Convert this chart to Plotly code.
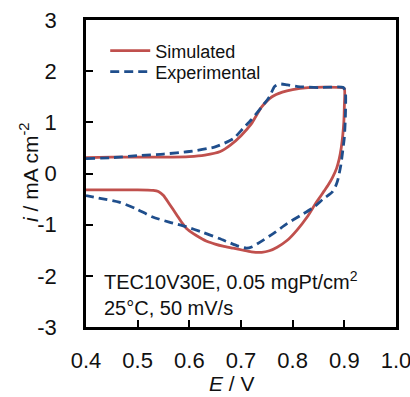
import plotly.graph_objects as go

# Simulated CV (anodic sweep then cathodic sweep)
sim_E = [0.40, 0.45, 0.50, 0.55, 0.60, 0.63, 0.66, 0.68, 0.70, 0.72, 0.74, 0.76, 0.78, 0.80, 0.83, 0.86, 0.895,
         0.900, 0.900, 0.899, 0.897, 0.894, 0.890, 0.885, 0.877, 0.869, 0.861, 0.853, 0.844, 0.828, 0.808, 0.789,
         0.770, 0.755, 0.740, 0.720, 0.704, 0.685, 0.665, 0.650, 0.635, 0.620, 0.607, 0.595, 0.587, 0.575, 0.561,
         0.550, 0.540, 0.530, 0.50, 0.45, 0.40]
sim_i = [0.31, 0.32, 0.32, 0.32, 0.33, 0.36, 0.43, 0.56, 0.74, 0.97, 1.30, 1.50, 1.59, 1.64, 1.68, 1.69, 1.68,
         1.66, 1.30, 1.00, 0.75, 0.50, 0.28, 0.10, -0.08, -0.22, -0.34, -0.46, -0.59, -0.85, -1.11, -1.31,
         -1.44, -1.51, -1.54, -1.53, -1.50, -1.46, -1.42, -1.38, -1.33, -1.25, -1.17, -1.08, -0.98, -0.80, -0.59,
         -0.43, -0.35, -0.33, -0.32, -0.32, -0.32]

# Experimental CV
exp_E = [0.40, 0.45, 0.50, 0.55, 0.60, 0.65, 0.685, 0.704, 0.72, 0.74, 0.755, 0.765, 0.775, 0.79, 0.81, 0.85, 0.898,
         0.902, 0.902, 0.900, 0.897, 0.893, 0.887, 0.883, 0.876, 0.860, 0.841, 0.815, 0.789, 0.763, 0.737, 0.722,
         0.711, 0.695, 0.675, 0.658, 0.626, 0.594, 0.561, 0.529, 0.497, 0.464, 0.43, 0.40]
exp_i = [0.29, 0.31, 0.35, 0.38, 0.43, 0.52, 0.68, 0.88, 1.05, 1.30, 1.50, 1.70, 1.75, 1.73, 1.70, 1.68, 1.68,
         1.60, 1.10, 0.70, 0.45, 0.15, -0.14, -0.25, -0.37, -0.49, -0.66, -0.82, -0.98, -1.17, -1.34, -1.43,
         -1.46, -1.42, -1.34, -1.27, -1.15, -1.04, -0.95, -0.85, -0.69, -0.56, -0.49, -0.43]

x_ticks = [0.4, 0.5, 0.6, 0.7, 0.8, 0.9, 1.0]
x_ticklabels = ["0.4", "0.5", "0.6", "0.7", "0.8", "0.9", "1.0"]
y_ticks = [-3, -2, -1, 0, 1, 2, 3]
y_ticklabels = ["-3", "-2", "-1", "0", "1", "2", "3"]
x_title = "<i>E</i> / V"
y_title = "<i>i</i> / mA cm<sup>-2</sup>"

FONT = "Arial, Liberation Sans, sans-serif"
TXT = "#111111"

fig = go.Figure()
fig.add_trace(go.Scatter(x=sim_E, y=sim_i, mode="lines", name="Simulated", legend="legend",
                         line=dict(color="#C0504D", width=2.8, shape="spline", smoothing=0.6)))
fig.add_trace(go.Scatter(x=exp_E, y=exp_i, mode="lines", name="Experimental", legend="legend2",
                         line=dict(color="#1F4E8C", width=2.8, dash="9px,5px", shape="spline", smoothing=0.6)))

leg_common = dict(xanchor="left", yanchor="middle", bgcolor="rgba(0,0,0,0)",
                  font=dict(size=18, family=FONT, color=TXT), itemwidth=40)

fig.update_layout(
    width=410, height=397,
    margin=dict(l=86, r=14, t=20, b=70, autoexpand=False),
    paper_bgcolor="white", plot_bgcolor="white",
    font=dict(family=FONT, size=22, color=TXT),
    showlegend=True,
    legend=dict(x=0.062, y=0.899, **leg_common),
    legend2=dict(x=0.062, y=0.831, **leg_common),
    xaxis=dict(range=[0.4, 1.0], tickvals=x_ticks, ticktext=x_ticklabels,
               ticks="inside", ticklen=7, tickwidth=2, tickcolor="black",
               showline=True, linecolor="black", linewidth=2.5, mirror=True,
               showgrid=False, zeroline=False, automargin=False, ticklabelstandoff=12,
               ticklabeloverflow="allow",
               tickfont=dict(size=22, family=FONT, color=TXT)),
    yaxis=dict(range=[-3, 3], tickvals=y_ticks, ticktext=y_ticklabels,
               ticks="inside", ticklen=7, tickwidth=2, tickcolor="black",
               showline=True, linecolor="black", linewidth=2.5, mirror=True,
               showgrid=False, zeroline=False, automargin=False, ticklabelstandoff=22,
               ticklabeloverflow="allow",
               tickfont=dict(size=22, family=FONT, color=TXT)),
)

# axis titles
fig.add_annotation(x=0.471, y=-0.229, xref="paper", yref="paper", xanchor="center", yanchor="bottom",
                   text=x_title, showarrow=False, font=dict(size=21, family=FONT, color=TXT))
fig.add_annotation(x=-0.184, y=0.505, xref="paper", yref="paper", xanchor="center", yanchor="middle",
                   text=y_title, textangle=-90, showarrow=False, font=dict(size=21, family=FONT, color=TXT))

fig.add_annotation(x=0.43, y=-2.10, xref="x", yref="y", xanchor="left", yanchor="middle",
                   text="TEC10V30E, 0.05 mgPt/cm<sup>2</sup>", showarrow=False,
                   font=dict(size=20, family=FONT, color=TXT))
fig.add_annotation(x=0.43, y=-2.62, xref="x", yref="y", xanchor="left", yanchor="middle",
                   text="25°C, 50 mV/s", showarrow=False,
                   font=dict(size=20, family=FONT, color=TXT))

fig.write_html("out.html")
